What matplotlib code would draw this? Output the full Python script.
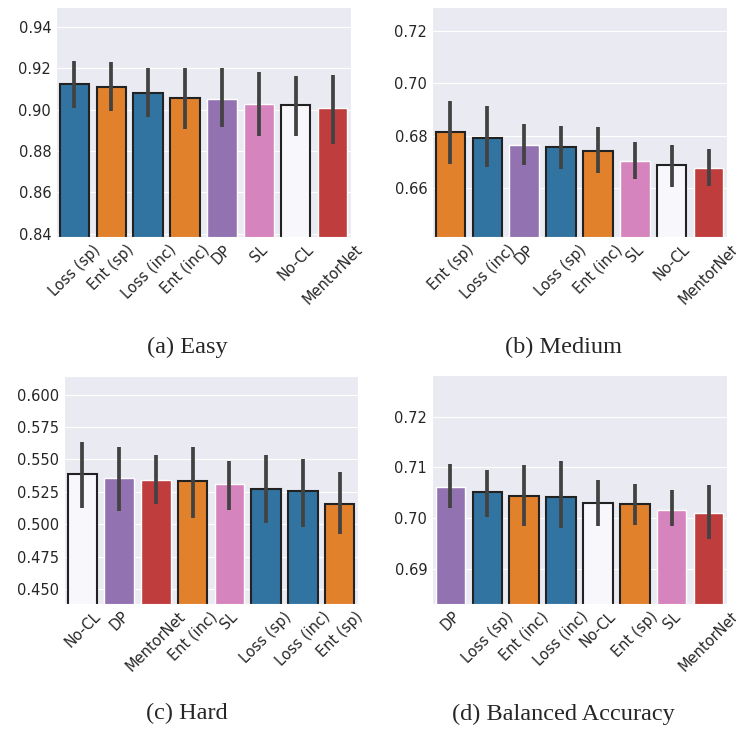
import numpy as np
import matplotlib
matplotlib.use("Agg")
import matplotlib.pyplot as plt
import seaborn as sns

# method -> colour
methods = ["Loss (sp)", "Loss (inc)", "Ent (sp)", "Ent (inc)", "DP", "SL", "No-CL", "MentorNet"]
method_colors = ["#3274a1", "#3274a1", "#e1812c", "#e1812c", "#9372b2", "#d684bd", "#f8f8fc", "#c03d3e"]
dark_edge = ["Loss (sp)", "Loss (inc)", "Ent (sp)", "Ent (inc)", "No-CL"]

# (a) Easy
easy_names = ["Loss (sp)", "Ent (sp)", "Loss (inc)", "Ent (inc)", "DP", "SL", "No-CL", "MentorNet"]
easy_mean = [0.9123, 0.9110, 0.9079, 0.9055, 0.9050, 0.9029, 0.9021, 0.9008]
easy_lo = [0.9008, 0.8992, 0.8963, 0.8908, 0.8914, 0.8872, 0.8872, 0.8832]
easy_hi = [0.9235, 0.9230, 0.9201, 0.9204, 0.9200, 0.9183, 0.9162, 0.9167]

# (b) Medium
med_names = ["Ent (sp)", "Loss (inc)", "DP", "Loss (sp)", "Ent (inc)", "SL", "No-CL", "MentorNet"]
med_mean = [0.6813, 0.6792, 0.6765, 0.6755, 0.6742, 0.6703, 0.6686, 0.6674]
med_lo = [0.6691, 0.6678, 0.6689, 0.6671, 0.6657, 0.6632, 0.6601, 0.6608]
med_hi = [0.6932, 0.6913, 0.6846, 0.6838, 0.6832, 0.6777, 0.6763, 0.6748]

# (c) Hard
hard_names = ["No-CL", "DP", "MentorNet", "Ent (inc)", "SL", "Loss (sp)", "Loss (inc)", "Ent (sp)"]
hard_mean = [0.5386, 0.5360, 0.5342, 0.5332, 0.5312, 0.5276, 0.5255, 0.5160]
hard_lo = [0.5122, 0.5104, 0.5160, 0.5047, 0.5114, 0.5012, 0.4981, 0.4922]
hard_hi = [0.5635, 0.5599, 0.5535, 0.5599, 0.5488, 0.5532, 0.5501, 0.5401]

# (d) Balanced Accuracy
bal_names = ["DP", "Loss (sp)", "Ent (inc)", "Loss (inc)", "No-CL", "Ent (sp)", "SL", "MentorNet"]
bal_mean = [0.7061, 0.7052, 0.7043, 0.7041, 0.7030, 0.7027, 0.7016, 0.7009]
bal_lo = [0.7020, 0.7001, 0.6983, 0.6980, 0.6983, 0.6986, 0.6983, 0.6958]
bal_hi = [0.7107, 0.7095, 0.7104, 0.7112, 0.7074, 0.7066, 0.7055, 0.7064]

sns.set_style("darkgrid")
plt.rcParams['font.family'] = ['DejaVu Sans']

fig = plt.figure(figsize=(7.36, 7.30), dpi=100)

def draw_panel(rect, names, mean, lo, hi, ylim, yticks, fmt, caption, cap_xy):
    ax = fig.add_axes(rect)
    x = np.arange(len(names))
    cols = [method_colors[methods.index(n)] for n in names]
    edges = ["#222222" if n in dark_edge else "white" for n in names]
    lws = [1.5 if n in dark_edge else 1.0 for n in names]
    ax.bar(x, mean, width=0.8, color=cols, edgecolor=edges, linewidth=lws, zorder=2)
    ax.vlines(x, lo, hi, color="#424242", linewidth=2.7, zorder=3)
    ax.set_xlim(-0.5, len(names) - 0.5)
    ax.set_ylim(*ylim)
    ax.set_yticks(yticks)
    ax.set_yticklabels([fmt % t for t in yticks], fontsize=10.5, color="0.15")
    ax.set_xticks(x)
    ax.set_xticklabels(names, rotation=45, fontsize=10.5, color="0.15")
    ax.tick_params(length=0)
    ax.grid(False, axis="x")
    fig.text(cap_xy[0], cap_xy[1], caption, ha="center", va="center",
             family="Liberation Serif", fontsize=17.5)
    return ax

draw_panel([0.0761, 0.6753, 0.4008, 0.3151], easy_names, easy_mean, easy_lo, easy_hi,
           (0.8384, 0.9497), [0.84, 0.86, 0.88, 0.90, 0.92, 0.94], "%.2f",
           "(a) Easy", (0.254, 0.524))
draw_panel([0.587, 0.6753, 0.4008, 0.3151], med_names, med_mean, med_lo, med_hi,
           (0.6411, 0.7293), [0.66, 0.68, 0.70, 0.72], "%.2f",
           "(b) Medium", (0.765, 0.524))
draw_panel([0.087, 0.1726, 0.3995, 0.3123], hard_names, hard_mean, hard_lo, hard_hi,
           (0.4385, 0.6144), [0.450, 0.475, 0.500, 0.525, 0.550, 0.575, 0.600], "%.3f",
           "(c) Hard", (0.254, 0.022))
draw_panel([0.587, 0.1726, 0.4008, 0.3137], bal_names, bal_mean, bal_lo, bal_hi,
           (0.6830, 0.7282), [0.69, 0.70, 0.71, 0.72], "%.2f",
           "(d) Balanced Accuracy", (0.765, 0.022))

fig.savefig("out.png", dpi=100)
